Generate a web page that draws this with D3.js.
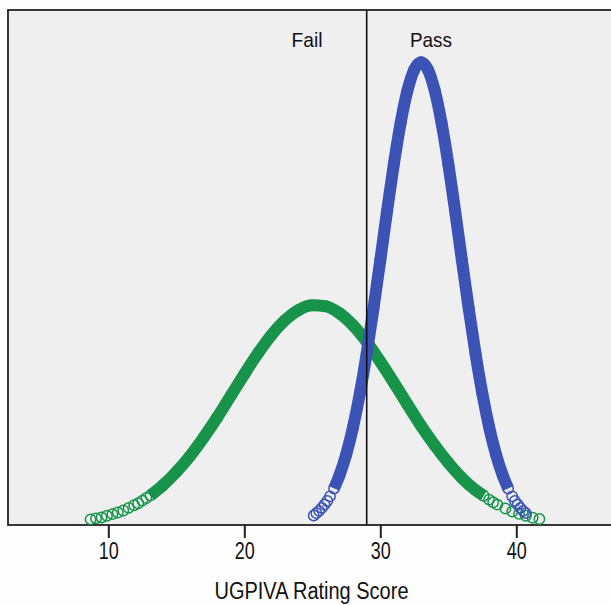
<!DOCTYPE html>
<html>
<head>
<meta charset="utf-8">
<script src="https://cdn.jsdelivr.net/npm/d3@7.9.0/dist/d3.min.js"></script>
<style>
  html, body { margin: 0; padding: 0; background: #fefefe; }
  svg { display: block; font-family: "Liberation Sans", Arial, sans-serif; }
</style>
</head>
<body>
<svg id="chart" width="611" height="605"></svg>
<script>
// values (score, density)
const failScores = [8.7, 9.1, 9.5, 9.9, 10.3, 10.7, 11.1, 11.5, 11.9, 12.2, 12.5, 12.8, 13.1, 14, 15, 16, 17, 18, 19, 20,
  21, 22, 23, 24, 25, 26, 27, 28, 29, 30, 31, 32, 33, 34, 35, 36, 37, 37.6, 38, 38.3, 38.6, 39.2, 39.7, 40.2, 40.7, 41.2, 41.7];
const failDensity = [0.0017, 0.0020, 0.0023, 0.0028, 0.0033, 0.0038, 0.0044, 0.0052, 0.0060, 0.0066, 0.0074, 0.0082,
  0.0090, 0.0120, 0.0161, 0.0209, 0.0265, 0.0326, 0.0392, 0.0458, 0.0521, 0.0577, 0.0622, 0.0653, 0.0667, 0.0664,
  0.0643, 0.0606, 0.0556, 0.0496, 0.0432, 0.0366, 0.0301, 0.0242, 0.0189, 0.0143, 0.0106, 0.0089, 0.0077, 0.0069,
  0.0062, 0.0050, 0.0041, 0.0034, 0.0028, 0.0022, 0.0018];

const passScores = [25.1, 25.3, 25.5, 25.7, 25.9, 26.1, 26.3, 26.6, 27, 27.5, 28, 28.5, 29, 29.5, 30, 30.5, 31, 31.5,
  32, 32.5, 33, 33.5, 34, 34.5, 35, 35.5, 36, 36.5, 37, 37.5, 38, 38.5, 39, 39.4, 39.7, 39.9, 40.1, 40.3, 40.5, 40.7];
const passDensity = [0.0029, 0.0036, 0.0043, 0.0052, 0.0062, 0.0073, 0.0087, 0.0111, 0.0151, 0.0215, 0.0298, 0.0400,
  0.0521, 0.0658, 0.0804, 0.0954, 0.1097, 0.1222, 0.1320, 0.1383, 0.1405, 0.1383, 0.1320, 0.1222, 0.1097, 0.0954,
  0.0804, 0.0658, 0.0521, 0.0400, 0.0298, 0.0215, 0.0151, 0.0111, 0.0087, 0.0073, 0.0062, 0.0052, 0.0043, 0.0036];

const cutoff = 29.0;
const tickValues = [10, 20, 30, 40];
const groupLabels = ['Fail', 'Pass'];
const axisTitle = 'UGPIVA Rating Score';

const svg = d3.select('#chart');

const plot = { left: 8, top: 10, right: 640, bottom: 525 };

const x = d3.scaleLinear().domain([10, 40]).range([108.3, 516.3]);
const y = d3.scaleLinear().domain([0, 0.15]).range([525, 31]);

// plot background
svg.append('rect')
  .attr('x', plot.left)
  .attr('y', plot.top)
  .attr('width', plot.right - plot.left)
  .attr('height', plot.bottom - plot.top)
  .attr('fill', '#efefef')
  .attr('stroke', '#222')
  .attr('stroke-width', 1.8);

const line = d3.line()
  .x(d => x(d.s))
  .y(d => y(d.d))
  .curve(d3.curveMonotoneX);

function drawCurve(scores, dens, color, solidFrom, solidTo) {
  const pts = scores.map((s, i) => ({ s: s, d: dens[i] }));
  const g = svg.append('g');
  g.append('path')
    .datum(pts.filter(p => p.s >= solidFrom && p.s <= solidTo))
    .attr('d', line)
    .attr('fill', 'none')
    .attr('stroke', color)
    .attr('stroke-width', 12)
    .attr('stroke-linecap', 'butt')
    .attr('stroke-linejoin', 'round');
  g.selectAll('circle')
    .data(pts)
    .join('circle')
    .attr('cx', d => x(d.s))
    .attr('cy', d => y(d.d))
    .attr('r', 5.2)
    .attr('fill', 'none')
    .attr('stroke', color)
    .attr('stroke-width', 1.5);
}

drawCurve(failScores, failDensity, '#17944a', 13.1, 37.6);
drawCurve(passScores, passDensity, '#3b53b5', 26.6, 39.4);

// cutoff line
svg.append('line')
  .attr('x1', x(cutoff)).attr('x2', x(cutoff))
  .attr('y1', plot.top).attr('y2', plot.bottom)
  .attr('stroke', '#111')
  .attr('stroke-width', 1.6);

// group labels
svg.append('text')
  .attr('x', 307).attr('y', 47)
  .attr('text-anchor', 'middle')
  .attr('font-size', 21)
  .attr('fill', '#111')
  .attr('textLength', 31)
  .attr('lengthAdjust', 'spacingAndGlyphs')
  .text(groupLabels[0]);

svg.append('text')
  .attr('x', 431).attr('y', 47)
  .attr('text-anchor', 'middle')
  .attr('font-size', 21)
  .attr('fill', '#111')
  .attr('textLength', 42)
  .attr('lengthAdjust', 'spacingAndGlyphs')
  .text(groupLabels[1]);

// x axis
const axis = svg.append('g')
  .attr('transform', `translate(0,${plot.bottom})`)
  .call(d3.axisBottom(x).tickValues(tickValues).tickSize(13).tickPadding(5));
axis.select('.domain').remove();
axis.selectAll('.tick line').attr('stroke', '#222').attr('stroke-width', 2);
axis.selectAll('.tick text')
  .attr('font-family', '"Liberation Sans", Arial, sans-serif')
  .attr('font-size', 23)
  .attr('fill', '#111')
  .attr('textLength', 20)
  .attr('lengthAdjust', 'spacingAndGlyphs');

svg.append('text')
  .attr('x', 311.5).attr('y', 599)
  .attr('text-anchor', 'middle')
  .attr('font-size', 23)
  .attr('fill', '#111')
  .attr('textLength', 194)
  .attr('lengthAdjust', 'spacingAndGlyphs')
  .text(axisTitle);
</script>
</body>
</html>
